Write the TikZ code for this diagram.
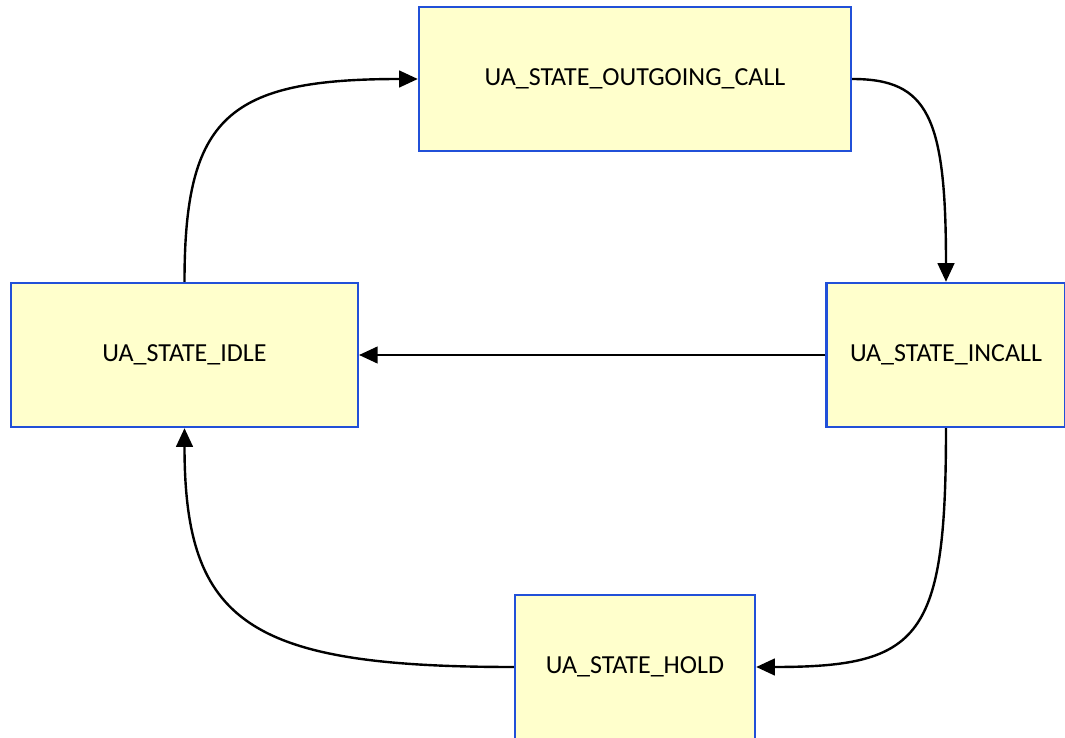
\documentclass[tikz,border=0pt]{standalone}
\usepackage{fontspec}
\setmainfont{Carlito}
\usetikzlibrary{arrows.meta}
\definecolor{StateBlue}{HTML}{2150D8}
\definecolor{StateFill}{HTML}{FFFFCC}

\begin{document}
\begin{tikzpicture}[
    x=0.75pt,y=-0.75pt,
    state/.style={draw=StateBlue, line width=1.8pt, fill=StateFill,
      minimum height=108pt, inner sep=0pt,
      font=\fontsize{19.5}{23}\selectfont},
    link/.style={-{Triangle[length=14pt,width=12.5pt]}, line width=1.8pt,
      color=black}
  ]
    \useasboundingbox (0,0) rectangle (1065,738);

    \node[state, minimum width=324pt] (outgoing) at (635,79) {UA\_STATE\_OUTGOING\_CALL};
    \node[state, minimum width=260pt] (idle) at (184.5,355) {UA\_STATE\_IDLE};
    \node[state, minimum width=179pt] (incall) at (946,355) {UA\_STATE\_INCALL};
    \node[state, minimum width=180pt] (hold) at (635,667) {UA\_STATE\_HOLD};

    \draw[link] (idle.north) .. controls +(0,-165) and +(-190,0) .. (outgoing.west);
    \draw[link] (outgoing.east) .. controls +(76,0) and +(0,-165) .. (incall.north);
    \draw[link] (incall.west) -- (idle.east);
    \draw[link] (incall.south) .. controls +(0,210) and +(165,0) .. (hold.east);
    \draw[link] (hold.west) .. controls +(-265,0) and +(0,195) .. (idle.south);
  \end{tikzpicture}
\end{document}
